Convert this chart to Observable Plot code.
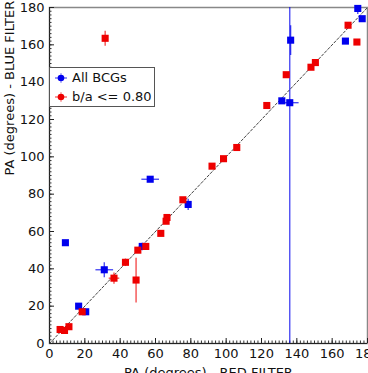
<!DOCTYPE html>
<html>
<head>
<meta charset="utf-8">
<script src="https://cdn.jsdelivr.net/npm/d3@7"></script>
<script src="https://cdn.jsdelivr.net/npm/@observablehq/plot@0.6"></script>
<style>
  html, body { margin: 0; padding: 0; background: white; overflow: hidden; }
  #wrap { position: relative; width: 368px; height: 373px; overflow: hidden; }
  #legend { position: absolute; left: 49px; top: 67px; width: 104px; height: 38px;
    border: 1px solid #555; background: white; font-family: "DejaVu Sans", sans-serif; font-size: 13px; color: #111; }
  .item { position: absolute; left: 0; height: 16px; line-height: 16px; white-space: nowrap; }
  .item svg { position: absolute; left: 4px; top: 2px; }
  .item span { position: absolute; left: 22px; top: 0; }
</style>
</head>
<body>
<div id="wrap"></div>
<script>
// ---- data ----
const blueX    = [9, 16.5, 20.5, 31, 52.5, 57, 78.5, 131.5, 136, 136.5, 167.5, 177, 174.5];
const blueY    = [54, 20, 17, 39.5, 52, 88, 74.5, 130, 129, 162.5, 162, 174, 179.5];
const blueXerr = [1.5, 0, 0, 5, 2, 5, 1, 0, 5, 0, 0, 0, 1];
const blueYerr = [1.5, 0, 0, 4, 2, 1, 3, 0, 200, 8, 0, 1, 3];

const redX    = [6, 8.5, 11, 18.5, 31.5, 36.5, 43, 49, 50, 54.5, 63, 66, 66.5, 75.5, 92, 98.5, 106, 123, 134, 148, 150.5, 169, 174];
const redY    = [7.5, 7, 9, 17, 163.5, 35, 43.5, 34, 50, 52, 59, 65.5, 67.5, 77, 95, 99, 105, 127.5, 144, 148, 150.5, 170.5, 161.5];
const redXerr = [1, 1, 0, 1, 0, 3, 1, 0, 0, 0, 0, 0, 0, 0, 0, 0, 0, 0, 0, 0, 0, 0, 0];
const redYerr = [0, 0, 0, 1, 4, 3, 2, 12, 0, 0, 0, 0, 0, 0, 0, 0, 0, 0, 0, 0, 0, 0, 0];

const seriesNames = ["All BCGs", "b/a <= 0.80"];
const seriesColors = ["#0000ee", "#ee0000"];
const majorTicks = [0, 20, 40, 60, 80, 100, 120, 140, 160, 180];
const minorTicks = d3.range(0, 181, 2);
const diagonal = [0, 180];
const xLabel = "PA (degrees) - RED FILTER";
const yLabel = "PA (degrees) - BLUE FILTER";

// ---- build ----
const rows = (xs, ys, xe, ye, s) => xs.map((x, i) => ({x, y: ys[i], xerr: xe[i], yerr: ye[i], s}));
const blue = rows(blueX, blueY, blueXerr, blueYerr, seriesNames[0]);
const red = rows(redX, redY, redXerr, redYerr, seriesNames[1]);
const all = blue.concat(red);

const W = 368, H = 385;
const mL = 49, mR = 1, mT = 7, mB = 42;
const plotW = W - mL - mR, plotH = H - mT - mB;
const fill = d => d.s === seriesNames[0] ? seriesColors[0] : seriesColors[1];

const chart = Plot.plot({
  width: W, height: H,
  marginLeft: mL, marginRight: mR, marginTop: mT, marginBottom: mB,
  x: {domain: [0, 180]},
  y: {domain: [0, 180]},
  style: {fontFamily: "DejaVu Sans, sans-serif", fontSize: "12.5px", color: "#111", background: "white", overflow: "visible"},
  marks: [
    Plot.frame({stroke: "#888", strokeWidth: 1.5}),
    Plot.ruleX([0], {stroke: "#222"}),
    Plot.ruleY([0], {stroke: "#222"}),
    Plot.tickX(minorTicks, {x: d => d, insetTop: plotH - 2.5, stroke: "#333"}),
    Plot.tickX(majorTicks, {x: d => d, insetTop: plotH - 5, stroke: "#222"}),
    Plot.tickY(minorTicks, {y: d => d, insetRight: plotW - 2.5, stroke: "#333"}),
    Plot.tickY(majorTicks, {y: d => d, insetRight: plotW - 5, stroke: "#222"}),
    Plot.line(diagonal, {x: d => d, y: d => d, stroke: "#444", strokeWidth: 1, strokeDasharray: "2.5,2"}),
    Plot.link(all.filter(d => d.xerr > 0), {x1: d => d.x - d.xerr, x2: d => d.x + d.xerr, y1: "y", y2: "y", stroke: fill, strokeWidth: 1.3, strokeOpacity: 0.75, clip: true}),
    Plot.link(all.filter(d => d.yerr > 0), {x1: "x", x2: "x", y1: d => d.y - d.yerr, y2: d => d.y + d.yerr, stroke: fill, strokeWidth: 1.3, strokeOpacity: 0.75, clip: true}),
    Plot.dot(blue, {x: "x", y: "y", symbol: "square", r: 4, fill: seriesColors[0], stroke: "none"}),
    Plot.dot(red, {x: "x", y: "y", symbol: "square", r: 4, fill: seriesColors[1], stroke: "none"}),
    Plot.axisX({ticks: majorTicks, tickSize: 0, tickPadding: 5, label: null, fontSize: 13}),
    Plot.axisY({ticks: majorTicks, tickSize: 0, tickPadding: 5, label: null, fontSize: 13}),
    Plot.text([xLabel], {text: d => d, frameAnchor: "bottom", dy: 33, lineAnchor: "bottom", fontSize: 13}),
    Plot.text([yLabel], {text: d => d, frameAnchor: "left", dx: -40, rotate: -90, fontSize: 13})
  ]
});

const wrap = document.getElementById("wrap");
wrap.appendChild(chart);

const legend = document.createElement("div");
legend.id = "legend";
seriesNames.forEach((name, i) => {
  const item = document.createElement("div");
  item.className = "item";
  item.style.top = (2 + i * 19) + "px";
  item.innerHTML = `<svg width="14" height="12"><line x1="1" x2="13" y1="6" y2="6" stroke="${seriesColors[i]}" stroke-opacity="0.7" stroke-width="1.2"/><line x1="7" x2="7" y1="1" y2="11" stroke="${seriesColors[i]}" stroke-opacity="0.5" stroke-width="1"/><circle cx="7" cy="6" r="3.3" fill="${seriesColors[i]}"/></svg><span></span>`;
  item.querySelector("span").textContent = name;
  legend.appendChild(item);
});
wrap.appendChild(legend);
</script>
</body>
</html>
